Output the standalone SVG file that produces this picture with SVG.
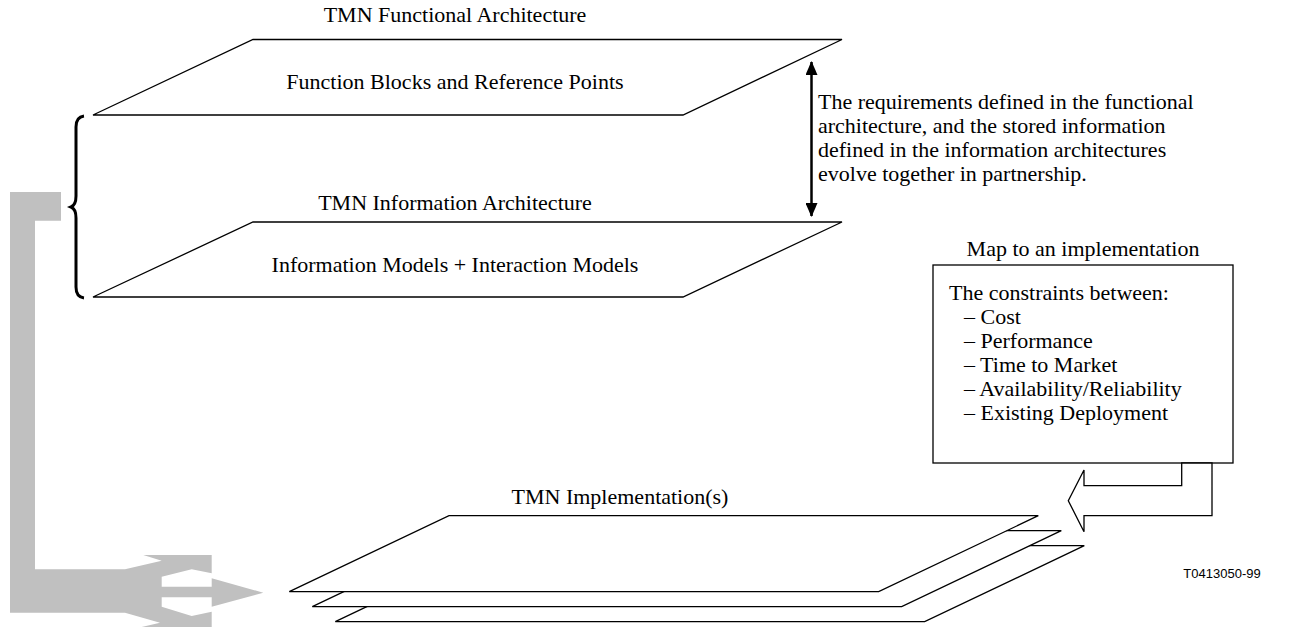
<svg xmlns="http://www.w3.org/2000/svg" width="1311" height="627" viewBox="0 0 1311 627">
<style>
.t{font-family:"Liberation Serif","Times New Roman",serif;font-size:22px;fill:#000}
.c{text-anchor:middle}
.p{fill:#fff;stroke:#000;stroke-width:1.3}
.s{font-family:"Liberation Sans",Arial,sans-serif;font-size:13px;fill:#000}
</style>
<defs>
<marker id="ah" markerWidth="14" markerHeight="12" refX="13" refY="6" orient="auto-start-reverse" markerUnits="userSpaceOnUse" viewBox="0 0 14 12">
<path d="M0,0 L14,6 L0,12 Z" fill="#000"/>
</marker>
</defs>
<rect width="1311" height="627" fill="#fff"/>
<g id="feedback-arrow">
<polygon fill="#c0c0c0" points="10,192 61,192 61,220.7 35,220.7 35,569.3 125,569.3 161.7,560.7 143.3,555 211.7,555 211.7,573.3 191.7,569.3 161.7,576.7 161.7,586.7 211.7,586.7 211.7,578.3 263.3,592.7 211.7,606.7 211.7,597.3 161.7,597.3 161.7,606.7 191.7,616 211.7,611.7 211.7,627 141.7,627 160,622.7 125,612.7 10,612.7"/>
</g>
<g id="brace">
<path d="M84,116 Q76,117 76,127 L76,196 Q76,205 71,207 Q76,209 76,218 L76,287 Q76,297 84,298" fill="none" stroke="#000" stroke-width="3"/>
</g>
<g id="functional">
<text class="t c" x="455" y="22">TMN Functional Architecture</text>
<polygon class="p" points="253,39.5 842,39.5 683,115 93,115"/>
<text class="t c" x="455" y="89">Function Blocks and Reference Points</text>
</g>
<g id="information">
<text class="t c" x="455" y="210">TMN Information Architecture</text>
<polygon class="p" points="253,222 842,222 683,297 93,297"/>
<text class="t c" x="455" y="272">Information Models + Interaction Models</text>
</g>
<g id="connectors">
<line x1="811.5" y1="62" x2="811.5" y2="216" stroke="#000" stroke-width="2.5" marker-start="url(#ah)" marker-end="url(#ah)"/>
</g>
<g id="partnership-note">
<text class="t" x="818" y="109">The requirements defined in the functional</text>
<text class="t" x="818" y="133">architecture, and the stored information</text>
<text class="t" x="818" y="157">defined in the information architectures</text>
<text class="t" x="818" y="181">evolve together in partnership.</text>
</g>
<g id="constraints">
<text class="t c" x="1083" y="256">Map to an implementation</text>
<rect class="p" x="933" y="265" width="300" height="198"/>
<text class="t" x="949" y="300">The constraints between:</text>
<text class="t" x="964" y="324">– Cost</text>
<text class="t" x="964" y="348">– Performance</text>
<text class="t" x="964" y="372">– Time to Market</text>
<text class="t" x="964" y="396">– Availability/Reliability</text>
<text class="t" x="964" y="420">– Existing Deployment</text>
</g>
<g id="map-arrow">
<polygon class="p" points="1181.7,463 1181.7,485.7 1084,485.7 1084,470 1068.3,500.7 1084,531.7 1084,515.7 1212,515.7 1212,463"/>
</g>
<g id="implementations">
<text class="t c" x="620" y="504">TMN Implementation(s)</text>
<polygon class="p" points="495,545.7 1084.3,545.7 924.7,621.7 335.3,621.7"/>
<polygon class="p" points="472,530.7 1061.3,530.7 901.7,606.7 312.3,606.7"/>
<polygon class="p" points="449,515.7 1038.3,515.7 878.7,591.7 289.3,591.7"/>
</g>
<text class="s" x="1222" y="578" text-anchor="middle">T0413050-99</text>
</svg>
